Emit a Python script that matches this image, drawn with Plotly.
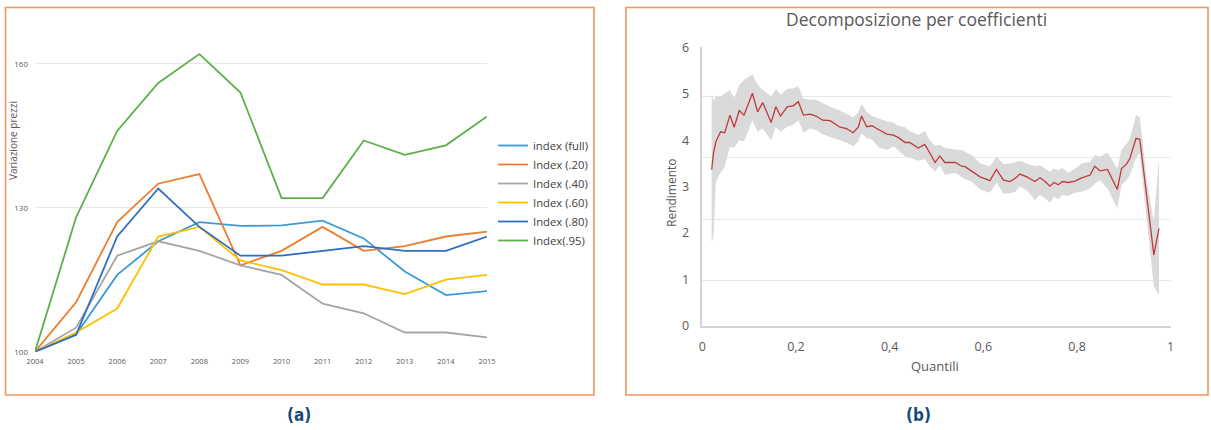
import plotly.graph_objects as go

W, H = 1211, 430

# ---------------- Panel (a) data ----------------
years = [2004, 2005, 2006, 2007, 2008, 2009, 2010, 2011, 2012, 2013, 2014, 2015]
series_names = ["index (full)", "Index (.20)", "Index (.40)", "Index (.60)", "Index (.80)", "Index(.95)"]
index_full = [100, 103.6, 116, 123, 127, 126.2, 126.3, 127.3, 123.6, 116.7, 111.8, 112.6]
index_20 = [100, 110.3, 127, 135, 137, 118, 121, 126, 121, 122, 124, 125]
index_40 = [100, 105, 120, 123, 121, 118, 116, 110, 108, 104, 104, 103]
index_60 = [100, 104, 109, 124, 126, 119, 117, 114, 114, 112, 115, 116]
index_80 = [100, 103.5, 124, 134, 126, 120, 120, 121, 122, 121, 121, 124]
index_95 = [100, 128, 146, 156, 162, 154, 132, 132, 144, 141, 143, 149]
series_colors = ["#3d9ad8", "#ed7d31", "#a5a5a5", "#ffc000", "#2f6fc0", "#5cb04a"]
yticks_a = [100, 130, 160]

# ---------------- Panel (b) data ----------------
quant = [0.020, 0.024, 0.029, 0.039, 0.048, 0.059, 0.068, 0.079, 0.089, 0.107,
         0.118, 0.129, 0.147, 0.157, 0.167, 0.181, 0.194, 0.205, 0.216, 0.230,
         0.243, 0.257, 0.273, 0.294, 0.308, 0.322, 0.333, 0.340, 0.351, 0.362,
         0.376, 0.394, 0.408, 0.418, 0.433, 0.443, 0.461, 0.475, 0.486, 0.497,
         0.507, 0.518, 0.540, 0.554, 0.561, 0.575, 0.593, 0.614, 0.628, 0.643,
         0.657, 0.668, 0.678, 0.693, 0.710, 0.721, 0.732, 0.742, 0.751, 0.760,
         0.769, 0.781, 0.796, 0.810, 0.828, 0.838, 0.849, 0.865, 0.886, 0.895,
         0.906, 0.913, 0.926, 0.934, 0.949, 0.964, 0.975]
rend = [3.37, 3.72, 3.97, 4.18, 4.16, 4.54, 4.28, 4.64, 4.54, 5.01,
        4.61, 4.81, 4.38, 4.72, 4.52, 4.72, 4.74, 4.83, 4.54, 4.56,
        4.52, 4.43, 4.42, 4.28, 4.25, 4.16, 4.28, 4.52, 4.29, 4.31,
        4.23, 4.13, 4.11, 4.06, 3.95, 3.95, 3.83, 3.91, 3.72, 3.52,
        3.66, 3.52, 3.52, 3.44, 3.43, 3.34, 3.21, 3.13, 3.37, 3.14,
        3.11, 3.18, 3.27, 3.21, 3.11, 3.19, 3.11, 3.01, 3.09, 3.04,
        3.11, 3.09, 3.12, 3.19, 3.25, 3.44, 3.34, 3.37, 2.94, 3.39,
        3.49, 3.61, 4.04, 4.02, 2.78, 1.53, 2.10]
rend_upper = [5.01, 4.85, 4.94, 4.94, 5.01, 5.08, 4.90, 5.19, 5.30, 5.42,
              5.20, 5.08, 4.94, 5.10, 4.98, 5.10, 5.12, 5.16, 4.90, 4.87,
              4.87, 4.80, 4.72, 4.64, 4.56, 4.49, 4.60, 4.78, 4.61, 4.52,
              4.47, 4.40, 4.38, 4.31, 4.28, 4.19, 4.11, 4.20, 4.00, 3.88,
              3.90, 3.83, 3.80, 3.79, 3.75, 3.68, 3.50, 3.44, 3.65, 3.49,
              3.50, 3.53, 3.56, 3.50, 3.44, 3.46, 3.39, 3.32, 3.39, 3.35,
              3.40, 3.30, 3.39, 3.50, 3.53, 3.68, 3.65, 3.73, 3.39, 3.79,
              3.93, 4.04, 4.54, 4.49, 3.14, 2.25, 3.61]
rend_lower = [1.78, 1.95, 3.10, 3.30, 3.43, 3.86, 3.83, 4.00, 3.97, 4.43,
              4.18, 4.25, 4.00, 4.29, 4.18, 4.29, 4.33, 4.43, 4.16, 4.25,
              4.22, 4.13, 4.07, 4.00, 3.95, 3.87, 3.98, 4.15, 4.04, 4.02,
              3.85, 3.79, 3.87, 3.79, 3.65, 3.63, 3.56, 3.59, 3.44, 3.32,
              3.46, 3.25, 3.30, 3.21, 3.16, 3.11, 2.94, 2.87, 3.09, 2.85,
              2.86, 2.89, 3.00, 2.92, 2.71, 2.82, 2.75, 2.65, 2.78, 2.73,
              2.82, 2.80, 2.87, 2.89, 2.96, 3.07, 3.14, 2.96, 2.53, 3.03,
              3.14, 3.25, 3.61, 3.72, 2.28, 0.85, 0.67]
xticks_b = [0, 0.2, 0.4, 0.6, 0.8, 1]
xticktext_b = ["0", "0,2", "0,4", "0,6", "0,8", "1"]
yticks_b = [0, 1, 2, 3, 4, 5, 6]
grid_b = [0.98, 2.30, 3.62, 4.94]


def px(x):
    return x / W


def py(y):
    return 1 - y / H


fig = go.Figure()

all_series = [index_full, index_20, index_40, index_60, index_80, index_95]
for name, vals, col in zip(series_names, all_series, series_colors):
    fig.add_trace(go.Scatter(x=years, y=vals, name=name, mode="lines",
                             line=dict(color=col, width=1.8),
                             xaxis="x", yaxis="y", showlegend=True))

# band (lower first, then upper filled to it)
fig.add_trace(go.Scatter(x=quant, y=rend_lower, mode="lines",
                         line=dict(width=0, color="rgba(0,0,0,0)"),
                         xaxis="x2", yaxis="y2", showlegend=False, hoverinfo="skip"))
fig.add_trace(go.Scatter(x=quant, y=rend_upper, mode="lines", fill="tonexty",
                         fillcolor="#dadada",
                         line=dict(width=0, color="rgba(0,0,0,0)"),
                         xaxis="x2", yaxis="y2", showlegend=False, hoverinfo="skip"))
fig.add_trace(go.Scatter(x=quant, y=rend, mode="lines",
                         line=dict(color="#c0393f", width=1.3),
                         xaxis="x2", yaxis="y2", showlegend=False))

tickfont_a = dict(family="Open Sans", size=8, color="#595959")
tickfont_b = dict(family="Open Sans", size=12.5, color="#595959")

fig.update_layout(
    width=W, height=H,
    margin=dict(l=0, r=0, t=0, b=0, autoexpand=False),
    paper_bgcolor="white", plot_bgcolor="rgba(0,0,0,0)",
    xaxis=dict(domain=[px(35), px(487)], range=[2004, 2015], anchor="y",
               tickvals=years, showgrid=False, showline=False, zeroline=False,
               tickfont=dict(family="Open Sans", size=7.5, color="#595959"),
               ticklabelstandoff=4, fixedrange=True, automargin=False),
    yaxis=dict(domain=[py(351.7), py(15.7)], range=[100, 170], anchor="x",
               tickvals=yticks_a, showgrid=True, gridcolor="#e8e8e8", gridwidth=1,
               zeroline=False, showline=False, tickfont=tickfont_a,
               ticklabelstandoff=6, fixedrange=True, automargin=False),
    xaxis2=dict(domain=[px(702.3), px(1170.7)], range=[0, 1], anchor="y2",
                tickvals=xticks_b, ticktext=xticktext_b, showgrid=False,
                showline=True, linecolor="#d4d4d4", linewidth=1.5, zeroline=False,
                tickfont=tickfont_b, ticklabelstandoff=8, fixedrange=True,
                automargin=False),
    yaxis2=dict(domain=[py(326), py(47.3)], range=[0, 6], anchor="x2",
                tickvals=yticks_b, showgrid=False, zeroline=False,
                showline=True, linecolor="#d4d4d4", linewidth=1.5,
                tickfont=tickfont_b, ticklabelstandoff=9, fixedrange=True,
                automargin=False,
                minor=dict(tickmode="array", tickvals=grid_b, showgrid=True,
                           gridcolor="#e1ebef", gridwidth=1, ticks="")),
    legend=dict(x=px(493), y=py(131), xanchor="left", yanchor="top",
                traceorder="normal",
                font=dict(family="Open Sans", size=11.3, color="#404040"),
                bgcolor="rgba(0,0,0,0)", borderwidth=0),
    showlegend=True,
)

# panel borders
for x0, x1 in [(5.5, 594), (626, 1208)]:
    fig.add_shape(type="rect", xref="paper", yref="paper",
                  x0=px(x0), x1=px(x1), y0=py(395), y1=py(7.5),
                  line=dict(color="#f4955a", width=1.6), fillcolor="rgba(0,0,0,0)",
                  layer="below")

annotations = [
    dict(text="Variazione prezzi", x=px(13), y=py(141), textangle=-90,
         font=dict(family="Open Sans", size=10, color="#595959")),
    dict(text="Decomposizione per coefficienti", x=px(916), y=py(19),
         font=dict(family="Open Sans", size=17.5, color="#595959")),
    dict(text="Rendimento", x=px(671), y=py(193), textangle=-90,
         font=dict(family="Open Sans", size=12, color="#595959")),
    dict(text="Quantili", x=px(935), y=py(366),
         font=dict(family="Open Sans", size=13, color="#595959")),
    dict(text="<b>(a)</b>", x=px(299), y=py(415),
         font=dict(family="DejaVu Sans Condensed", size=17, color="#164a7e")),
    dict(text="<b>(b)</b>", x=px(919), y=py(415),
         font=dict(family="DejaVu Sans Condensed", size=17, color="#164a7e")),
]
for a in annotations:
    a.update(xref="paper", yref="paper", showarrow=False, xanchor="center", yanchor="middle")
    fig.add_annotation(**a)

fig.write_html("out.html", config={"displayModeBar": False},
               post_script="document.body.style.margin='0px';document.body.style.overflow='hidden';")
